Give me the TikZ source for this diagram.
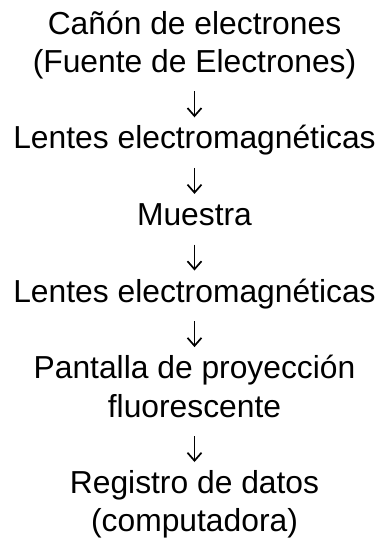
\documentclass[tikz,border=0pt]{standalone}
\usepackage{fontspec}
\setmainfont{Liberation Sans}
\usetikzlibrary{arrows.meta,positioning}
\tikzset{
  etapa/.style={align=center, inner sep=0pt, anchor=base, font=\fontsize{31.8pt}{38.3pt}\selectfont},
  flecha/.style={line width=1.7pt, -{Straight Barb[length=8pt,width=14pt]}}
}
\begin{document}
\begin{tikzpicture}[x=1pt,y=1pt]
  \useasboundingbox (0,0) rectangle (379,-542);
  % Etapas (base = ultima linea)
  \node[etapa] (canon) at (194.5,-72.3) {Cañón de electrones\\(Fuente de Electrones)};
  \node[etapa] (lentesA) at (194.5,-148.9) {Lentes electromagnéticas};
  \node[etapa] (muestra) at (194.5,-225.5) {Muestra};
  \node[etapa] (lentesB) at (194.5,-302.1) {Lentes electromagnéticas};
  \node[etapa] (pantalla) at (194.5,-417) {Pantalla de proyección\\fluorescente};
  \node[etapa] (registro) at (194.5,-531.9) {Registro de datos\\(computadora)};
  % Flechas
  \draw[flecha] ([yshift=-19pt]canon.base) -- ([yshift=31.6pt]lentesA.base);
  \draw[flecha] ([yshift=-19pt]lentesA.base) -- ([yshift=31.6pt]muestra.base);
  \draw[flecha] ([yshift=-19pt]muestra.base) -- ([yshift=31.6pt]lentesB.base);
  \draw[flecha] ([yshift=-19pt]lentesB.base) -- ([yshift=69.9pt]pantalla.base);
  \draw[flecha] ([yshift=-19pt]pantalla.base) -- ([yshift=69.9pt]registro.base);
\end{tikzpicture}
\end{document}
